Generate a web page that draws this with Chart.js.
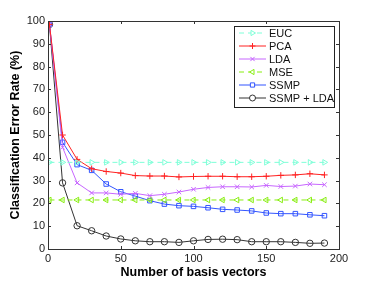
<!DOCTYPE html>
<html><head><meta charset="utf-8">
<script src="https://cdn.jsdelivr.net/npm/chart.js@4/dist/chart.umd.min.js"></script>
<style>html,body{margin:0;padding:0;background:#fff}#wrap{width:374px;height:281px}</style>
</head><body><div id="wrap"><canvas id="c" width="374" height="281"></canvas></div>
<script>
const xValues = [1,10,20,30,40,50,60,70,80,90,100,110,120,130,140,150,160,170,180,190];
const seriesLabels = ['EUC','PCA','LDA','MSE','SSMP','SSMP + LDA'];
const eucValues = [38,38,38,38,38,38,38,38,38,38,38,38,38,38,38,38,38,38,38,38];
const pcaValues = [98.5,50,39.3,35.2,34,33.3,32.2,32,32,31.6,31.8,31.9,31.9,31.7,31.7,31.9,32.3,32.5,33,32.5];
const ldaValues = [98.5,44.6,29,24.6,24.6,24,24.4,23.4,24,25,26.2,27,27.3,27.3,27.2,27.9,27.4,27.6,28.5,28.2];
const mseValues = [21.5,21.5,21.5,21.5,21.5,21.5,21.5,21.5,21.5,21.5,21.5,21.5,21.5,21.5,21.5,21.5,21.5,21.5,21.5,21.5];
const ssmpValues = [98.5,46.8,37,34.5,28.5,25.1,23.2,21.2,19.7,19,18.7,18.1,17.4,17.1,16.7,15.8,15.5,15.5,15,14.6];
const ssmpLdaValues = [98.5,29,10.2,8,5.7,4.4,3.6,3.2,3.2,2.9,3.6,4.2,4.3,4.1,3.2,3.2,3.2,2.9,2.5,2.6];
const xTicks = [0,50,100,150,200];
const yTicks = [0,10,20,30,40,50,60,70,80,90,100];

const styles = [
  {color:'#7fffd8', point:'triangle', rot:90, dash:[5,4]},
  {color:'#ff2222', point:'cross', rot:0, dash:[]},
  {color:'#c766ff', point:'crossRot', rot:0, dash:[]},
  {color:'#88ee11', point:'triangle', rot:-90, dash:[5,4]},
  {color:'#3355ff', point:'rect', rot:0, dash:[]},
  {color:'#333333', point:'circle', rot:0, dash:[]}
];
const allSeries = [eucValues,pcaValues,ldaValues,mseValues,ssmpValues,ssmpLdaValues];

const datasets = allSeries.map((vals,i)=>({
  label: seriesLabels[i],
  data: xValues.map((x,j)=>({x:x,y:vals[j]})),
  showLine: true,
  borderColor: styles[i].color,
  backgroundColor: 'rgba(0,0,0,0)',
  borderWidth: 1,
  borderDash: styles[i].dash,
  pointStyle: styles[i].point,
  pointRotation: styles[i].rot,
  pointRadius: 3.2,
  pointBorderWidth: 1,
  pointBorderColor: styles[i].color,
  pointBackgroundColor: 'rgba(0,0,0,0)',
  tension: 0
}));

const axisColor = '#333';
const boxPlugin = {
  id: 'boxPlugin',
  afterDatasetsDraw(chart) {
    const ctx = chart.ctx, a = chart.chartArea;
    const xs = chart.scales.x, ys = chart.scales.y;
    ctx.save();
    ctx.strokeStyle = axisColor;
    ctx.lineWidth = 1;
    ctx.setLineDash([]);
    ctx.strokeRect(Math.round(a.left)+0.5, Math.round(a.top)+0.5, Math.round(a.right-a.left), Math.round(a.bottom-a.top));
    ctx.beginPath();
    xTicks.forEach(v=>{
      const px = Math.round(xs.getPixelForValue(v))+0.5;
      ctx.moveTo(px,a.bottom); ctx.lineTo(px,a.bottom-3);
      ctx.moveTo(px,a.top); ctx.lineTo(px,a.top+3);
    });
    yTicks.forEach(v=>{
      const py = Math.round(ys.getPixelForValue(v))+0.5;
      ctx.moveTo(a.left,py); ctx.lineTo(a.left+3,py);
      ctx.moveTo(a.right,py); ctx.lineTo(a.right-3,py);
    });
    ctx.stroke();
    // legend
    const lx = 234.5, ly = 26.5, lw = 100, lh = 81;
    ctx.fillStyle = '#fff';
    ctx.fillRect(lx,ly,lw,lh);
    ctx.strokeStyle = '#222';
    ctx.strokeRect(lx,ly,lw,lh);
    ctx.font = '11px "Liberation Sans", Arial, sans-serif';
    ctx.textBaseline = 'middle';
    ctx.textAlign = 'left';
    chart.data.datasets.forEach((ds,i)=>{
      const y = 33 + i*13;
      ctx.strokeStyle = ds.borderColor;
      ctx.lineWidth = 1;
      ctx.setLineDash(ds.borderDash);
      ctx.beginPath();
      ctx.moveTo(239,y); ctx.lineTo(266,y);
      ctx.stroke();
      ctx.setLineDash([]);
      ctx.fillStyle = '#fff';
      ctx.strokeStyle = ds.borderColor;
      Chart.helpers.drawPoint(ctx,{pointStyle:ds.pointStyle,rotation:ds.pointRotation,radius:3,borderWidth:1},252.5,y);
      ctx.fillStyle = '#111';
      ctx.fillText(ds.label,269,y+0.5);
    });
    ctx.restore();
  }
};

new Chart(document.getElementById('c'), {
  type: 'scatter',
  data: {datasets},
  options: {
    responsive: false,
    animation: false,
    devicePixelRatio: 1,
    layout: {padding: {top: 21, right: 35, left: 0, bottom: 0}},
    plugins: {legend: {display: false}, tooltip: {enabled: false}},
    scales: {
      x: {
        type: 'linear', min: 0, max: 200,
        afterFit: s => { s.height = 32; },
        afterBuildTicks: s => { s.ticks = xTicks.map(v=>({value:v})); },
        grid: {display: false, drawTicks: false},
        border: {display: false},
        ticks: {color: '#222', font: {size: 11, family: '"Liberation Sans", Arial, sans-serif'}, padding: 3, maxRotation: 0},
        title: {display: true, text: 'Number of basis vectors', color: '#000', font: {size: 12.5, weight: 'bold', family: '"Liberation Sans", Arial, sans-serif'}, padding: {top: 0, bottom: 1}}
      },
      y: {
        type: 'linear', min: 0, max: 100,
        afterFit: s => { s.width = 48; },
        afterBuildTicks: s => { s.ticks = yTicks.map(v=>({value:v})); },
        grid: {display: false, drawTicks: false},
        border: {display: false},
        ticks: {color: '#222', font: {size: 11, family: '"Liberation Sans", Arial, sans-serif'}, padding: 3},
        title: {display: true, text: 'Classification Error Rate (%)', color: '#000', font: {size: 12.5, weight: 'bold', family: '"Liberation Sans", Arial, sans-serif'}, padding: {top: 8, bottom: 0}}
      }
    }
  },
  plugins: [boxPlugin]
});
</script>
</body></html>
